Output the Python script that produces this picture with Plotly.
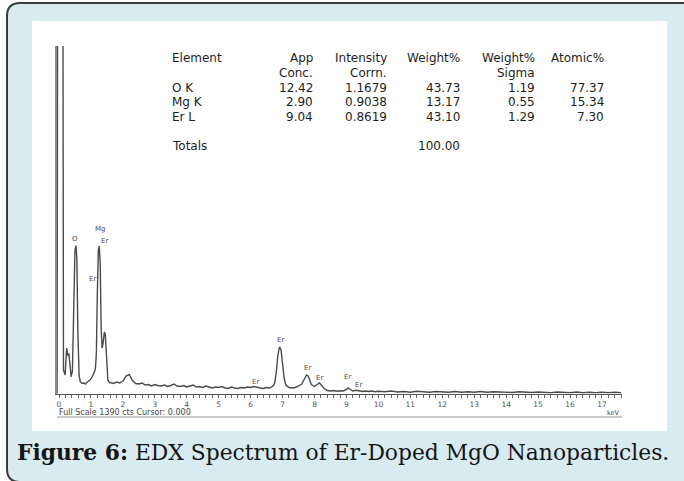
import plotly.graph_objects as go

W, H = 684, 481

# ---- EDX spectrum (energy in keV, intensity in counts) ----
energy_kev = [
    -0.06, -0.04, 0.00, 0.06, 0.12, 0.14, 0.19, 0.24, 0.28, 0.31, 0.35, 0.38,
    0.42, 0.46, 0.50, 0.53, 0.56, 0.59, 0.63, 0.67, 0.72, 0.77, 0.82, 0.87,
    0.92, 0.97, 1.02, 1.06, 1.10, 1.14, 1.17, 1.20, 1.23, 1.26, 1.29, 1.32,
    1.35, 1.38, 1.42, 1.45, 1.49, 1.53, 1.58,
    1.6, 1.7, 1.8, 1.9, 2.0, 2.1, 2.2, 2.3, 2.4, 2.5, 2.6, 2.7, 2.8, 2.9,
    3.0, 3.1, 3.2, 3.3, 3.4, 3.5, 3.6, 3.7, 3.8, 3.9, 4.0, 4.1, 4.2, 4.3,
    4.4, 4.5, 4.6, 4.7, 4.8, 4.9, 5.0, 5.1, 5.2, 5.3, 5.4, 5.5, 5.6, 5.7,
    5.8, 5.9, 6.0, 6.1, 6.2, 6.3, 6.4, 6.5, 6.6, 6.7, 6.75, 6.8, 6.85, 6.9,
    6.95, 7.0, 7.05, 7.1, 7.2, 7.3, 7.4, 7.5, 7.6, 7.7, 7.75, 7.8, 7.85,
    7.9, 8.0, 8.1, 8.15, 8.2, 8.3, 8.4, 8.5, 8.6, 8.7, 8.8, 8.9, 9.0, 9.05,
    9.1, 9.2, 9.3, 9.4, 9.5, 9.6, 9.7, 9.8, 9.9, 10.0,
    10.2, 10.4, 10.6, 10.8, 11.0, 11.2, 11.4, 11.6, 11.8, 12.0, 12.2, 12.4,
    12.6, 12.8, 13.0, 13.2, 13.4, 13.6, 13.8, 14.0, 14.2, 14.4, 14.6, 14.8,
    15.0, 15.2, 15.4, 15.6, 15.8, 16.0, 16.2, 16.4, 16.6, 16.8, 17.0, 17.2,
    17.4, 17.6,
]
counts = [
    0, 1900, 1900, 1900, 1900, 94, 74, 182, 150, 160, 90, 67,
    90, 300, 570, 592, 540, 250, 70, 46, 40, 42, 38, 44,
    48, 54, 62, 72, 84, 100, 160, 400, 570, 590, 520, 260,
    182, 200, 246, 236, 120, 54, 44,
    44, 40, 46, 42, 50, 70, 76, 52, 40, 38, 42, 34, 36, 30,
    36, 32, 30, 34, 28, 32, 38, 30, 28, 32, 26, 30, 34, 26,
    28, 24, 30, 26, 22, 26, 24, 28, 22, 20, 26, 22, 20, 24,
    22, 26, 24, 28, 24, 22, 20, 24, 22, 30, 40, 80, 150, 186,
    176, 120, 60, 34, 24, 22, 24, 30, 38, 62, 74, 70, 52,
    36, 28, 38, 42, 36, 20, 12, 10, 12, 9, 11, 10, 16, 22,
    18, 10, 13, 11, 8, 10, 8, 10, 7, 9,
    7, 10, 6, 8, 5, 9, 7, 5, 8, 6, 5, 8,
    5, 7, 5, 8, 5, 7, 5, 6, 4, 7, 5, 4,
    6, 5, 3, 6, 5, 3, 6, 3, 5, 3, 5, 3,
    5, 3,
]
full_scale_cts = 1390
cursor_kev = 0.000
x_tick_values = list(range(0, 18))

# ---- peak identification labels ----
peak_names = ["O", "Mg", "Er", "Er", "Er", "Er", "Er", "Er", "Er", "Er"]
peak_kev = [0.50, 1.28, 1.42, 1.06, 6.14, 6.95, 7.79, 8.15, 9.04, 9.37]

# ---- quantification table ----
header_top = ["Element", "App", "Intensity", "Weight%", "Weight%", "Atomic%"]
header_sub = ["", "Conc.", "Corrn.", "", "Sigma", ""]
elements = ["O K", "Mg K", "Er L"]
app_conc = [12.42, 2.90, 9.04]
intensity_corrn = [1.1679, 0.9038, 0.8619]
weight_pct = [43.73, 13.17, 43.10]
weight_sigma = [1.19, 0.55, 1.29]
atomic_pct = [77.37, 15.34, 7.30]
total_weight_pct = 100.00

caption_bold = "Figure 6:"
caption_text = "EDX Spectrum of Er-Doped MgO Nanoparticles."


def px(x):
    return x / W


def py(y):
    return 1 - y / H


fig = go.Figure()
fig.add_trace(go.Scatter(
    x=energy_kev, y=counts, mode="lines",
    line=dict(color="#4a4a4a", width=1.4),
    hoverinfo="skip", showlegend=False,
))

# plot-area geometry in pixels
X_LEFT, X_RIGHT = 57, 622
Y_AXIS, Y_TOP = 393.5, 46
kev_per_px = 1 / 31.94
x_lo = 0 - (59 - X_LEFT) * kev_per_px
x_hi = x_lo + (X_RIGHT - X_LEFT) * kev_per_px

# ---- background panel: light-blue card with a rounded left edge ----
L, T, R, B, r = 7, 3, 700, 482, 13
panel_fill = (
    f"M {px(L + r)},{py(T)} L {px(R)},{py(T)} L {px(R)},{py(B)} "
    f"L {px(L + r)},{py(B)} Q {px(L)},{py(B)} {px(L)},{py(B - r)} "
    f"L {px(L)},{py(T + r)} Q {px(L)},{py(T)} {px(L + r)},{py(T)} Z"
)
panel_edge = (
    f"M {px(L + r)},{py(B)} Q {px(L)},{py(B)} {px(L)},{py(B - r)} "
    f"L {px(L)},{py(T + r)} Q {px(L)},{py(T)} {px(L + r)},{py(T)} "
    f"L {px(R)},{py(T)}"
)
shapes = [
    dict(type="path", path=panel_fill, xref="paper", yref="paper",
         fillcolor="#d7ebf1", line=dict(width=0), layer="below"),
    dict(type="path", path=panel_edge, xref="paper", yref="paper",
         fillcolor="rgba(0,0,0,0)", line=dict(color="#3a3a3a", width=2),
         layer="below"),
    dict(type="rect", xref="paper", yref="paper",
         x0=px(32), x1=px(667), y0=py(431), y1=py(21),
         fillcolor="white", line=dict(width=0), layer="below"),
    dict(type="line", xref="paper", yref="paper",
         x0=px(57), x1=px(622), y0=py(417), y1=py(417),
         line=dict(color="#9a9a9a", width=1)),
]

annotations = []

# peak labels, placed just above each line
label_cts = [618, 658, 610, 458, 47, 214, 101, 61, 65, 34]
for name, kev, c in zip(peak_names, peak_kev, label_cts):
    annotations.append(dict(
        x=kev, y=c, xref="x", yref="y", text=name, showarrow=False,
        xanchor="center", yanchor="middle",
        font=dict(family="DejaVu Sans", size=7, color="#4a4a55"),
    ))

# table
tfont = dict(family="DejaVu Sans", size=12, color="#1e1e1e")
col_right = [None, 315, 389, 462, 537, 606]
col_left = 170
y_head, y_sub = 58, 73
y_rows = [88, 102.5, 117]
y_total = 146


def text_at(x, y, s, anchor):
    annotations.append(dict(
        x=px(x), y=py(y), xref="paper", yref="paper", text=s, showarrow=False,
        xanchor=anchor, yanchor="middle", font=tfont,
    ))


text_at(col_left, y_head, header_top[0], "left")
for i in range(1, 6):
    text_at(col_right[i], y_head, header_top[i], "right")
    if header_sub[i]:
        text_at(col_right[i], y_sub, header_sub[i], "right")

for k, el in enumerate(elements):
    y = y_rows[k]
    text_at(col_left, y, el, "left")
    text_at(col_right[1], y, f"{app_conc[k]:.2f}", "right")
    text_at(col_right[2], y, f"{intensity_corrn[k]:.4f}", "right")
    text_at(col_right[3], y, f"{weight_pct[k]:.2f}", "right")
    text_at(col_right[4], y, f"{weight_sigma[k]:.2f}", "right")
    text_at(col_right[5], y, f"{atomic_pct[k]:.2f}", "right")

text_at(col_left, y_total, "Totals", "left")
text_at(col_right[3], y_total, f"{total_weight_pct:.2f}", "right")

# status line and unit
sfont = dict(family="DejaVu Sans", size=8, color="#444444")
annotations.append(dict(
    x=px(57), y=py(412.5), xref="paper", yref="paper", showarrow=False,
    text=f"Full Scale {full_scale_cts} cts Cursor: {cursor_kev:.3f}",
    xanchor="left", yanchor="middle", font=sfont,
))
annotations.append(dict(
    x=px(622), y=py(412.5), xref="paper", yref="paper", showarrow=False,
    text="keV", xanchor="right", yanchor="middle",
    font=dict(family="DejaVu Sans", size=6.5, color="#444444"),
))

# caption
annotations.append(dict(
    x=px(343), y=py(452), xref="paper", yref="paper", showarrow=False,
    text=f"<b>{caption_bold}</b> {caption_text}",
    xanchor="center", yanchor="middle",
    font=dict(family="DejaVu Serif", size=21.8, color="#151515"),
))

fig.update_layout(
    width=W, height=H, autosize=False,
    margin=dict(l=0, r=0, t=0, b=0, pad=0),
    paper_bgcolor="white", plot_bgcolor="rgba(0,0,0,0)",
    shapes=shapes, annotations=annotations, showlegend=False,
    xaxis=dict(
        domain=[px(X_LEFT), px(X_RIGHT)], range=[x_lo, x_hi],
        showline=True, linecolor="#555555", linewidth=1,
        tickmode="array", tickvals=x_tick_values,
        ticktext=[str(v) for v in x_tick_values],
        ticks="outside", ticklen=3, tickwidth=1, tickcolor="#666666",
        minor=dict(dtick=0.2, tick0=0, ticks="outside", ticklen=3,
                   tickwidth=1, tickcolor="#666666"),
        tickfont=dict(family="DejaVu Sans", size=7.5, color="#555555"),
        showgrid=False, zeroline=False, fixedrange=True,
    ),
    yaxis=dict(
        domain=[py(Y_AXIS), py(Y_TOP)], range=[0, full_scale_cts],
        showline=True, linecolor="#8c8c8c", linewidth=1.5,
        ticks="", showticklabels=False, showgrid=False, zeroline=False,
        fixedrange=True,
    ),
)

fig.write_html("out.html")
